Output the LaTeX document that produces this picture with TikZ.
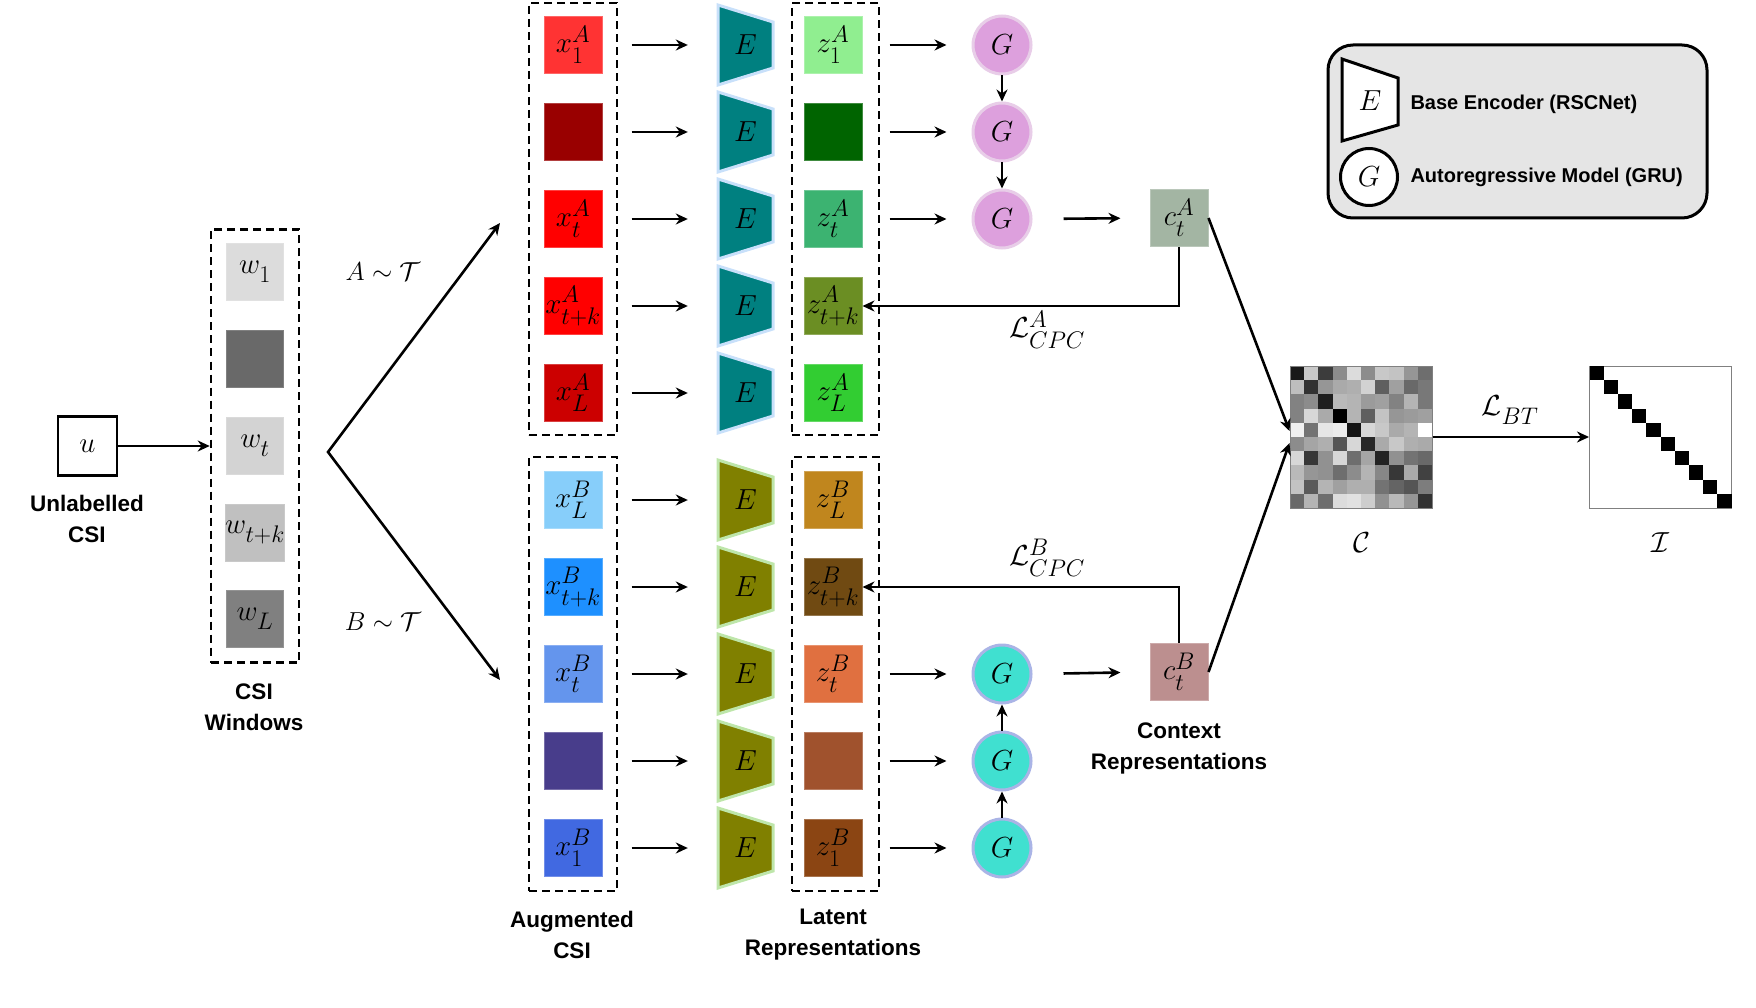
\RequirePackage{fix-cm}
\documentclass[tikz,border=0pt]{standalone}
\usepackage{fontspec}
\newfontfamily\lsans{Liberation Sans}
\usetikzlibrary{arrows.meta,calc}
\DeclareMathSizes{29}{29}{24}{20}
\font\cmsyfix=cmsy10 at 29pt
\fontdimen13\cmsyfix=12.8pt
\fontdimen17\cmsyfix=11pt
\fontdimen16\cmsyfix=9pt
\newcommand\mathfnt{\fontsize{29}{31}\selectfont}
\newcommand\smathfnt{\fontsize{26}{28}\selectfont}
\newcommand\lblfnt{\lsans\bfseries\fontsize{22.5}{31}\selectfont}
\newcommand\legfnt{\lsans\bfseries\fontsize{20}{24}\selectfont}
\definecolor{xa1}{HTML}{FF3333}\definecolor{xa2}{HTML}{990000}\definecolor{xa3}{HTML}{FF0000}
\definecolor{xa4}{HTML}{FF0000}\definecolor{xa5}{HTML}{CC0000}
\definecolor{za1}{HTML}{90EE90}\definecolor{za2}{HTML}{006400}\definecolor{za3}{HTML}{3CB371}
\definecolor{za4}{HTML}{6B8E23}\definecolor{za5}{HTML}{32CD32}
\definecolor{xb1}{HTML}{87CEFA}\definecolor{xb2}{HTML}{1E90FF}\definecolor{xb3}{HTML}{6495ED}
\definecolor{xb4}{HTML}{483D8B}\definecolor{xb5}{HTML}{4169E1}
\definecolor{zb1}{HTML}{C0861E}\definecolor{zb2}{HTML}{704A12}\definecolor{zb3}{HTML}{E07040}
\definecolor{zb4}{HTML}{A0522D}\definecolor{zb5}{HTML}{8B4513}
\definecolor{w1}{HTML}{DCDCDC}\definecolor{w2}{HTML}{696969}\definecolor{w3}{HTML}{D3D3D3}
\definecolor{w4}{HTML}{C0C0C0}\definecolor{w5}{HTML}{808080}
\definecolor{cAc}{HTML}{A3B5A3}\definecolor{cBc}{HTML}{BC8F8F}
\definecolor{encA}{HTML}{008080}\definecolor{encAb}{HTML}{C8E0FA}
\definecolor{encB}{HTML}{808000}\definecolor{encBb}{HTML}{BEE6AA}
\definecolor{gA}{HTML}{DDA0DD}\definecolor{gAb}{HTML}{E8CDE8}
\definecolor{gB}{HTML}{40E0D0}\definecolor{gBb}{HTML}{AAB4E6}
\begin{document}
\begin{tikzpicture}[x=1pt,y=-1pt,
  sq/.style={minimum width=58pt, minimum height=57pt, inner sep=0pt, fill=#1, draw=#1!75!white, line width=1pt, font=\mathfnt},
  wsq/.style={minimum width=57pt, minimum height=57pt, inner sep=0pt, fill=#1, draw=#1!85!white, line width=1pt, font=\mathfnt},
  dbox/.style={draw, dash pattern=on 8pt off 5pt, line width=2.6pt, inner sep=0pt},
  arr/.style={line width=2.6pt, -{Stealth[length=12pt,width=11pt]}},
  lbl/.style={font=\lblfnt, align=center},
  encnode/.style={minimum width=55pt, minimum height=78pt, inner sep=0pt, font=\mathfnt},
  gnode/.style={circle, minimum size=58pt, inner sep=0pt, fill=#1, line width=3pt, font=\mathfnt},
  mlbl/.style={font=\mathfnt}
]
\useasboundingbox (0,0) rectangle (1756,1008);

% input
\node[draw, line width=2.6pt, minimum size=59pt, inner sep=0pt, font=\mathfnt] (u) at (87.5,446) {$u$};
\node[lbl] (ulbl) at (87,519) {Unlabelled\\CSI};

% windows
\node[dbox, minimum width=88pt, minimum height=433pt] (win) at (255,446) {};
\foreach \i/\yy/\lab in {1/272/{$w_1$},2/359/{},3/446/{$w_t$},4/533/{$w_{t+k}$},5/619/{$w_L$}}
  {\node[wsq=w\i] (w\i) at (255,\yy) {\lab};}
\node[lbl] (winlbl) at (254,707) {CSI\\Windows};
\draw[arr] (u) -- (win);

% split
\coordinate (split) at (328,452);
\coordinate (tipA) at (500,223);
\coordinate (tipB) at (500,680);
\draw[line width=2.6pt, {Stealth[length=12pt,width=11pt]}-{Stealth[length=12pt,width=11pt]}] (tipA) -- (split) -- (tipB);
\node[font=\smathfnt] (tA) at (383,272) {$A\sim\mathcal{T}$};
\node[font=\smathfnt] (tB) at (383,622) {$B\sim\mathcal{T}$};

% augmented and latent boxes
\node[dbox, minimum width=88pt, minimum height=432pt] (augA) at (573,219) {};
\node[dbox, minimum width=88pt, minimum height=434pt] (augB) at (573,674) {};
\node[dbox, minimum width=87pt, minimum height=432pt] (latA) at (835.5,219) {};
\node[dbox, minimum width=87pt, minimum height=434pt] (latB) at (835.5,674) {};
\node[lbl] (auglbl) at (572,935) {Augmented\\CSI};
\node[lbl] (latlbl) at (833,935) {Latent\\Representations};

\foreach \i/\yy/\lab in {1/45/{$x_1^A$},2/132/{},3/219/{$x_t^A$},4/306/{$x_{t+k}^A$},5/393/{$x_L^A$}}
  {\node[sq=xa\i] (xA\i) at (573,\yy) {\lab};}
\foreach \i/\yy/\lab in {1/45/{$z_1^A$},2/132/{},3/219/{$z_t^A$},4/306/{$z_{t+k}^A$},5/393/{$z_L^A$}}
  {\node[sq=za\i] (zA\i) at (833,\yy) {\lab};}
\foreach \i/\yy/\lab in {1/500/{$x_L^B$},2/587/{$x_{t+k}^B$},3/674/{$x_t^B$},4/761/{},5/848/{$x_1^B$}}
  {\node[sq=xb\i] (xB\i) at (573,\yy) {\lab};}
\foreach \i/\yy/\lab in {1/500/{$z_L^B$},2/587/{$z_{t+k}^B$},3/674/{$z_t^B$},4/761/{},5/848/{$z_1^B$}}
  {\node[sq=zb\i] (zB\i) at (833,\yy) {\lab};}

% encoders
\foreach \i/\yy in {1/45,2/132,3/219,4/306,5/393}{
  \filldraw[fill=encA, draw=encAb, line width=3pt, line join=miter]
    (718,\yy-40) -- (773,\yy-23) -- (773,\yy+23) -- (718,\yy+40) -- cycle;
  \node[encnode] (EA\i) at (745.5,\yy) {$E$};
  \draw[arr, shorten <=29pt, shorten >=30pt] (xA\i.east) -- (EA\i.west);
}
\foreach \i/\yy in {1/500,2/587,3/674,4/761,5/848}{
  \filldraw[fill=encB, draw=encBb, line width=3pt, line join=miter]
    (718,\yy-40) -- (773,\yy-23) -- (773,\yy+23) -- (718,\yy+40) -- cycle;
  \node[encnode] (EB\i) at (745.5,\yy) {$E$};
  \draw[arr, shorten <=29pt, shorten >=30pt] (xB\i.east) -- (EB\i.west);
}

% autoregressive
\foreach \i/\yy in {1/45,2/132,3/219}{
  \node[gnode=gA, draw=gAb] (GA\i) at (1002,\yy) {$G$};
  \draw[arr, shorten <=27pt, shorten >=25pt] (zA\i.east) -- (GA\i.west);
}
\foreach \i/\yy in {3/674,4/761,5/848}{
  \node[gnode=gB, draw=gBb] (GB\i) at (1002,\yy) {$G$};
  \draw[arr, shorten <=27pt, shorten >=25pt] (zB\i.east) -- (GB\i.west);
}
\draw[arr] (GA1) -- (GA2);
\draw[arr] (GA2) -- (GA3);
\draw[arr] (GB5) -- (GB4);
\draw[arr] (GB4) -- (GB3);

% context
\node[sq=cAc] (cA) at (1179,218) {$c_t^A$};
\node[sq=cBc] (cB) at (1179,672) {$c_t^B$};
\node[lbl] (ctxlbl) at (1179,748) {Context\\Representations};
\draw[arr, shorten <=31pt, shorten >=29pt] (GA3.east) -- (cA.west);
\draw[arr, shorten <=31pt, shorten >=29pt] (GB3.east) -- (cB.west);
\draw[arr] (cA.south) |- (zA4.east);
\draw[arr] (cB.north) |- (zB2.east);
\node[mlbl] (lA) at (1047,330) {$\mathcal{L}_{CPC}^A$};
\node[mlbl] (lB) at (1047,558) {$\mathcal{L}_{CPC}^B$};

% cross-correlation matrix
\foreach \row [count=\r from 0] in {
  {25,200,60,140,220,140,200,195,150,110},
  {190,50,150,170,175,210,95,160,105,120},
  {130,140,30,185,180,155,160,130,180,120},
  {130,215,170,0,180,95,195,150,155,160},
  {240,115,230,235,20,215,200,170,180,255},
  {140,165,175,85,215,40,170,200,175,170},
  {215,55,145,215,110,165,35,145,115,105},
  {185,150,145,110,140,180,135,55,170,65},
  {195,90,180,160,175,175,115,100,85,125},
  {105,180,110,220,225,205,145,185,150,50}}{
  \foreach \v [count=\c from 0] in \row {
    \definecolor{cellc}{RGB}{\v,\v,\v}
    \fill[cellc] (1290+14.2*\c,366+14.2*\r) rectangle ++(14.2,14.2);
  }
}
\node[draw=gray, line width=1pt, minimum size=142pt, inner sep=0pt] (Cm) at (1361,437) {};
\node[draw=gray, line width=1pt, fill=white, minimum size=142pt, inner sep=0pt] (Im) at (1660.5,437) {};
\foreach \k in {0,...,9}{
  \fill[black] (1589.5+14.2*\k,366+14.2*\k) rectangle ++(14.2,14.2);
}
\node[mlbl] (Clbl) at (1362,543) {$\mathcal{C}$};
\node[mlbl] (Ilbl) at (1660,543) {$\mathcal{I}$};
\draw[arr] (cA.east) -- ([yshift=6pt]Cm.west);
\draw[arr] (cB.east) -- ([yshift=-6pt]Cm.west);
\draw[arr] (Cm) -- (Im);
\node[mlbl] (lBT) at (1510,410) {$\mathcal{L}_{BT}$};

% legend
\node[draw, rounded corners=25pt, fill=gray!20, line width=3pt, minimum width=379pt, minimum height=173pt] (leg) at (1517.5,131.5) {};
\filldraw[fill=white, draw=black, line width=3pt, line join=miter]
  (1342,59) -- (1398,78) -- (1398,125) -- (1342,141) -- cycle;
\node[encnode] (legE) at (1370,101) {$E$};
\node[circle, draw, fill=white, line width=3pt, minimum size=57pt, inner sep=0pt, font=\mathfnt] (legG) at (1369,177) {$G$};
\node[anchor=west, font=\legfnt] (legEt) at (1407,104) {Base Encoder (RSCNet)};
\node[anchor=west, font=\legfnt] (legGt) at (1407,177) {Autoregressive Model (GRU)};
\end{tikzpicture}
\end{document}
